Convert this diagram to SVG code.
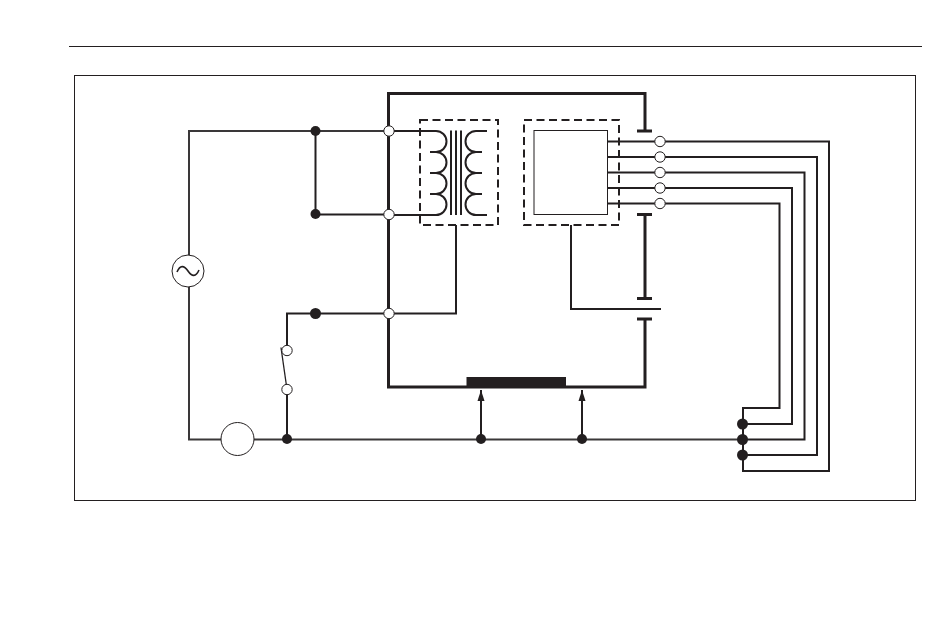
<svg xmlns="http://www.w3.org/2000/svg" width="950" height="644" viewBox="0 0 950 644">
<defs>
<style>
.w{fill:none;stroke:#231f20;stroke-width:2}
.t{fill:none;stroke:#231f20;stroke-width:3}
.g{fill:none;stroke:#3a3839;stroke-width:2}
.d{fill:none;stroke:#231f20;stroke-width:2;stroke-dasharray:8 4.5}
.o{fill:#fff;stroke:#231f20;stroke-width:1}
.f{fill:#231f20}
</style>
<marker id="arrow" markerWidth="8" markerHeight="12" refX="0" refY="0" orient="0" viewBox="-4 0 8 12" markerUnits="userSpaceOnUse"><path d="M0 0L3.500 11H-3.500Z" fill="#231f20"/></marker>
</defs>
<rect width="950" height="644" fill="#fff"/>
<path d="M69 46.500H922" stroke="#231f20" stroke-width="1.200"/>
<rect x="74.500" y="75.500" width="841" height="425" fill="none" stroke="#231f20" stroke-width="1"/>
<g id="connectors">
<path class="t" d="M645 131V93.500H388.500V387H645V319"/>
<path class="t" d="M637 131H652M637 214.500H652M645 214.500V298.500M637 298.500H652M637 319H652"/>
<path class="w" d="M571 225V309H661"/>
<path class="g" d="M189 255V131H389M189 287V439.500H221M254 439.500H743"/>
<path class="w" d="M315.500 131V214M315.500 214.500H389"/>
<path class="w" d="M389 313.500H456V225M389 313.500H287V346M287 394V439"/>
<path class="w" d="M607 141.500H829V471H743V424M607 157H817V455H743M607 172.500H804.500V439.500H743M607 188H792V424H743M607 203.500H779.500V408H743V424"/>
<path class="w" d="M481 438V390" marker-end="url(#arrow)"/>
<path class="w" d="M582 438V390" marker-end="url(#arrow)"/>
</g>
<g id="transformer">
<rect class="d" x="420" y="120" width="78" height="105"/>
<path class="w" d="M389 131H436A10.500 10.500 0 0 1 436 152H430M436 152A10.500 10.500 0 0 1 436 173H430M436 173A10.500 10.500 0 0 1 436 194H430M436 194A10.500 10.500 0 0 1 436 215H389"/>
<path class="w" d="M487 131H476A10.500 10.500 0 0 0 476 152H482M476 152A10.500 10.500 0 0 0 476 173H482M476 173A10.500 10.500 0 0 0 476 194H482M476 194A10.500 10.500 0 0 0 476 215H487"/>
<path class="w" d="M451 130.500V215M456 130.500V215M461 130.500V215"/>
</g>
<g id="regulator">
<rect class="d" x="524" y="120" width="95" height="105"/>
<rect x="534" y="130.500" width="73.500" height="84" fill="#fff" stroke="#231f20" stroke-width="1"/>
</g>
<g id="bar"><rect class="f" x="466.500" y="377" width="99.500" height="10"/></g>
<g id="source">
<circle class="o" cx="188" cy="271" r="16"/>
<path d="M177 272C180 265 184 265 188 271S196 277 199 270" fill="none" stroke="#231f20" stroke-width="1.600"/>
</g>
<g id="load"><circle class="o" cx="237.500" cy="439" r="16.500"/></g>
<g id="switch">
<path d="M281 347.500L286.500 386" fill="none" stroke="#231f20" stroke-width="1.300"/>
<circle class="o" cx="287" cy="350.500" r="5.200"/>
<circle class="o" cx="287" cy="389.500" r="5.200"/>
</g>
<g id="junctions">
<circle class="f" cx="315.500" cy="131" r="5"/>
<circle class="f" cx="315.500" cy="214" r="5"/>
<circle class="f" cx="315.500" cy="313.500" r="5.500"/>
<circle class="f" cx="287" cy="439" r="5"/>
<circle class="f" cx="481" cy="439" r="5"/>
<circle class="f" cx="582" cy="439" r="5"/>
<circle class="f" cx="742.500" cy="424" r="5.500"/>
<circle class="f" cx="742.500" cy="439.500" r="5.500"/>
<circle class="f" cx="742.500" cy="455" r="5.500"/>
</g>
<g id="terminals">
<circle class="o" cx="389" cy="131" r="5.200"/>
<circle class="o" cx="389" cy="214.500" r="5.200"/>
<circle class="o" cx="389" cy="313.500" r="5.200"/>
<circle class="o" cx="660" cy="141.500" r="5.200"/>
<circle class="o" cx="660" cy="157" r="5.200"/>
<circle class="o" cx="660" cy="172.500" r="5.200"/>
<circle class="o" cx="660" cy="188" r="5.200"/>
<circle class="o" cx="660" cy="203.500" r="5.200"/>
</g>
</svg>
